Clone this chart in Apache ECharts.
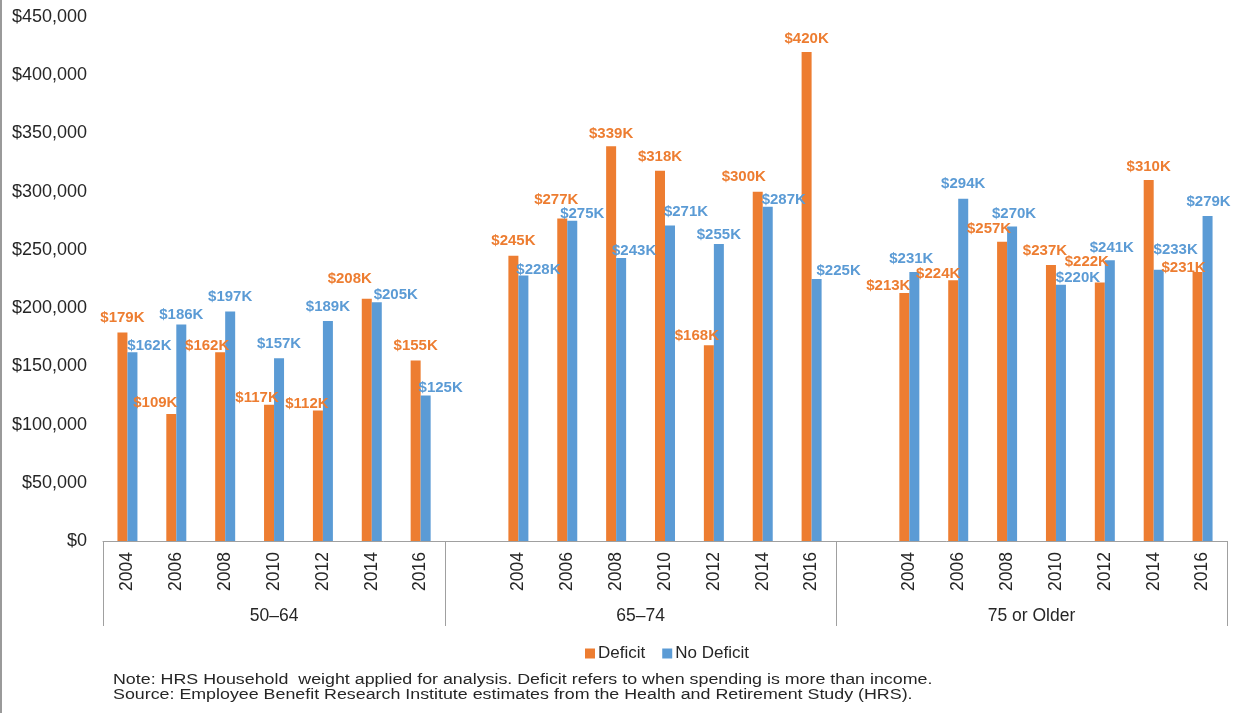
<!DOCTYPE html>
<html>
<head>
<meta charset="utf-8">
<script src="https://cdn.jsdelivr.net/npm/echarts@6/dist/echarts.min.js"></script>
<style>
html,body{margin:0;padding:0;background:#fff}
#main{width:1244px;height:713px}
</style>
</head>
<body>
<div id="main"></div>
<script>
// age groups and survey years
var groups = ['50–64', '65–74', '75 or Older'];
var years = ['2004', '2006', '2008', '2010', '2012', '2014', '2016'];

// median assets in $K, one row per age group, 2004..2016
var deficit = [
	[179, 109, 162, 117, 112, 208, 155],
	[245, 277, 339, 318, 168, 300, 420],
	[213, 224, 257, 237, 222, 310, 231]
];
var noDeficit = [
	[162, 186, 197, 157, 189, 205, 125],
	[228, 275, 243, 271, 255, 287, 225],
	[231, 294, 270, 220, 241, 233, 279]
];

var notes = [
	'Note: HRS Household  weight applied for analysis. Deficit refers to when spending is more than income.',
	'Source: Employee Benefit Research Institute estimates from the Health and Retirement Study (HRS).'
];

// label nudges [dx, dy] so overlapping labels sit like the original
var deficitNudge = [
	[[0,0],[-16,3],[-13,8],[-12,8],[-11,8],[-17,-5],[0,0]],
	[[0,0],[-6,-4],[0,2],[0,1],[-12,5],[-14,0],[0,1]],
	[[-16,7],[-15,8],[-13,2],[-6,0],[-13,-6],[0,1],[-14,10]]
];
var noDeficitNudge = [
	[[17,8],[0,5],[0,0],[0,0],[0,0],[19,7],[15,7]],
	[[15,9],[10,8],[13,7],[16,1],[0,5],[16,8],[22,6]],
	[[-3,1],[0,0],[2,2],[17,8],[2,2],[17,-5],[1,0]]
];

var ORANGE = '#ED7D31', BLUE = '#5B9BD5', TXT = '#262626', LINE = '#a0a0a0';

// build the flat category list: group 1, gap, group 2, gap, group 3
var cats = [], dData = [], nData = [];
var groupStart = [], groupMid = [];
function pushItem(arr, v, nudge, color) {
	arr.push({
		value: v * 1000,
		label: { offset: nudge, color: color }
	});
}
for (var g = 0; g < groups.length; g++) {
	if (g > 0) {
		cats.push('');
		dData.push(null);
		nData.push(null);
	}
	groupStart.push(cats.length - (g > 0 ? 1 : 0));
	for (var i = 0; i < years.length; i++) {
		cats.push(years[i]);
		pushItem(dData, deficit[g][i], deficitNudge[g][i], ORANGE);
		pushItem(nData, noDeficit[g][i], noDeficitNudge[g][i], BLUE);
	}
}
var groupEdges = groupStart.concat([cats.length]);
for (var k = 0; k < groups.length; k++) {
	groupMid.push((groupEdges[k] + groupEdges[k + 1]) / 2);
}

var labelStyle = {
	show: true,
	position: 'top',
	distance: 7,
	fontFamily: 'Liberation Sans, Arial',
	fontWeight: 'bold',
	fontSize: 15,
	formatter: function (p) { return '$' + Math.round(p.value / 1000) + 'K'; }
};

var option = {
	animation: false,
	backgroundColor: '#fff',
	textStyle: { fontFamily: 'Liberation Sans, Arial' },
	legend: {
		data: ['Deficit', 'No Deficit'],
		left: 580,
		top: 640,
		icon: 'rect',
		itemWidth: 10,
		itemHeight: 10,
		itemGap: 17,
		textStyle: { fontSize: 17, color: TXT, padding: [0, 0, 0, -2] }
	},
	grid: { left: 103, right: 17, top: 17, bottom: 172 },
	xAxis: [{
		type: 'category',
		data: cats,
		position: 'bottom',
		axisLine: { lineStyle: { color: LINE, width: 1 } },
		axisTick: { show: false },
		axisLabel: { interval: 0, rotate: 90, margin: 11, fontSize: 17.5, color: TXT }
	}, {
		type: 'value',
		min: 0,
		max: cats.length,
		position: 'bottom',
		axisLine: { show: false },
		splitLine: { show: false },
		axisTick: {
			show: true,
			customValues: groupEdges,
			length: 85,
			lineStyle: { color: LINE, width: 1 }
		},
		axisLabel: {
			customValues: groupMid,
			margin: 66,
			fontSize: 17.5,
			color: TXT,
			formatter: function (v) { return groups[groupMid.indexOf(v)] || ''; }
		}
	}],
	yAxis: {
		type: 'value',
		min: 0,
		max: 450000,
		interval: 50000,
		axisLine: { show: false },
		axisTick: { show: false },
		splitLine: { show: false },
		axisLabel: {
			margin: 16,
			fontSize: 18,
			color: TXT,
			formatter: function (v) { return '$' + v.toLocaleString('en-US'); }
		}
	},
	series: [{
		name: 'Deficit',
		type: 'bar',
		xAxisIndex: 0,
		barWidth: 10,
		barGap: '0%',
		itemStyle: { color: ORANGE },
		label: labelStyle,
		data: dData
	}, {
		name: 'No Deficit',
		type: 'bar',
		xAxisIndex: 0,
		barWidth: 10,
		barGap: '0%',
		itemStyle: { color: BLUE },
		label: labelStyle,
		data: nData
	}],
	graphic: [{
		type: 'rect',
		shape: { x: 0, y: 0, width: 2, height: 713 },
		style: { fill: '#9a9a9a' }
	}, {
		// source note, a little stretched like the original
		type: 'text',
		x: 113,
		y: 672,
		scaleX: 1.15,
		style: {
			text: notes.join('\n'),
			fontFamily: 'Liberation Sans, Arial',
			fontSize: 15.5,
			lineHeight: 15,
			fill: TXT
		}
	}]
};

var myChart = echarts.init(document.getElementById('main'));
myChart.setOption(option);
</script>
</body>
</html>
